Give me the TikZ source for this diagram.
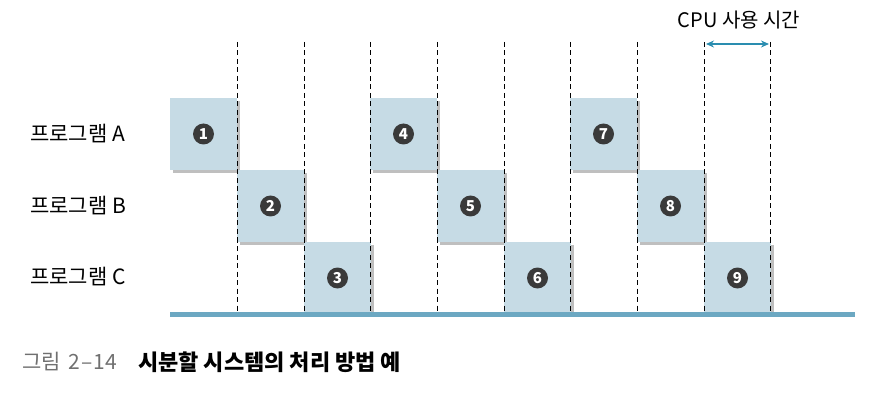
\documentclass[tikz,border=0pt]{standalone}
\usepackage{fontspec}
\setmainfont{Noto Sans CJK KR}
\newfontfamily\cjk{Noto Sans CJK KR}
\usetikzlibrary{shadows,arrows.meta}
\definecolor{boxblue}{HTML}{C6DBE5}
\definecolor{baseblue}{HTML}{6CA8C2}
\definecolor{arrowteal}{HTML}{2A8DB0}
\definecolor{numdark}{HTML}{3A3A3A}
\definecolor{capgray}{HTML}{707070}
\begin{document}
\begin{tikzpicture}[x=1pt,y=-1pt,
  slot/.style={fill=boxblue, drop shadow={shadow xshift=3pt, shadow yshift=-3pt, fill=black, opacity=0.25}},
  num/.style={circle, fill=numdark, text=white, inner sep=0pt, minimum size=21pt, font=\cjk\bfseries\fontsize{15}{15}\selectfont},
  proglabel/.style={anchor=west, font=\cjk\fontsize{21}{22}\selectfont, inner sep=0pt},
  tick/.style={draw=black, line width=0.8pt, dash pattern=on 5pt off 3.5pt}
]
\useasboundingbox (0,0) rectangle (895,401);
% boxes
\foreach \x/\y/\n [count=\i] in {170/98/1,237/170/2,304/242/3,370/98/4,437/170/5,504/242/6,570/98/7,637/170/8,704/242/9}{
  \fill[slot] (\x,\y) rectangle ++(67,72);
  \node[num] (n\i) at (\x+33.5,\y+36) {\n};
}
% baseline
\fill[baseblue] (170,312) rectangle (855,317);
% dashed lines
\foreach \x [count=\i] in {237,304,370,437,504,570,637,704,770}{
  \coordinate (t\i) at (\x,42);
  \coordinate (b\i) at (\x,312);
  \draw[tick] (t\i) -- (b\i);
}
% labels
\node[proglabel] (la) at (30,134) {프로그램 A};
\node[proglabel] (lb) at (30,206) {프로그램 B};
\node[proglabel] (lc) at (30,277) {프로그램 C};
% CPU time
\coordinate (a1) at (706,44);
\coordinate (a2) at (769,44);
\draw[arrowteal, line width=1.4pt, {Stealth[length=8pt,width=7pt]}-{Stealth[length=8pt,width=7pt]}] (a1) -- (a2);
\node[font=\cjk\fontsize{20}{20}\selectfont, inner sep=0pt] (cpu) at (739,20) {CPU 사용 시간};
% caption
\node[anchor=west, inner sep=0pt, text=capgray, font=\cjk\fontsize{21}{22}\selectfont] (capnum) at (22,362)
  {그림\hspace{3pt} 2\hspace{1pt}–\hspace{1pt}14};
\node[anchor=west, inner sep=0pt, font=\cjk\bfseries\fontsize{22}{22}\selectfont] (captxt) at (138,362)
  {시분할 시스템의 처리 방법 예};
\end{tikzpicture}
\end{document}
